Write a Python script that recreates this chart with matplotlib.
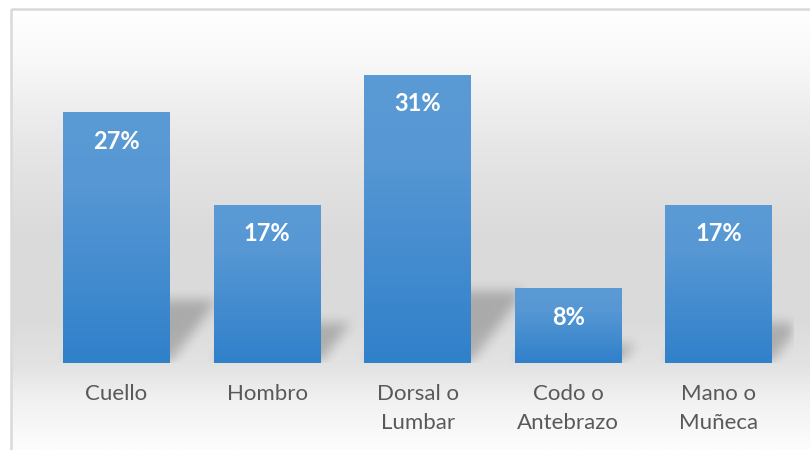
import matplotlib.pyplot as plt
import numpy as np
from matplotlib.colors import LinearSegmentedColormap
from matplotlib.patches import Rectangle

plt.rcParams['font.family'] = ['Lato', 'DejaVu Sans']

categorias = ['Cuello', 'Hombro', 'Dorsal o\nLumbar', 'Codo o\nAntebrazo', 'Mano o\nMuñeca']
porcentajes = [0.27, 0.17, 0.31, 0.08, 0.17]

W, H = 810, 450
fig = plt.figure(figsize=(W / 100, H / 100), dpi=100)
fig.patch.set_facecolor('white')

# chart area background (vertical grey gradient) in pixel coords
bg = fig.add_axes([0, 0, 1, 1])
bg.set_xlim(0, W)
bg.set_ylim(H, 0)
bg.axis('off')
fondo = LinearSegmentedColormap.from_list('fondo', [
    (0.0, '#ffffff'), (0.12, '#f8f8f8'), (0.30, '#e7e7e7'),
    (0.50, '#dbdbdb'), (0.70, '#dadada'), (0.82, '#e4e4e4'),
    (0.88, '#f0f0f0'), (1.0, '#fdfdfd')])
grad = np.linspace(0, 1, 256).reshape(-1, 1)
bg.imshow(grad, cmap=fondo, extent=(11, W, H, 9), aspect='auto', zorder=0)
bg.add_patch(Rectangle((11, 9), W, H, fill=False, edgecolor='#d9d9d9', lw=1.8, zorder=1))

ax = fig.add_axes([41.2 / W, 87 / H, 753 / W, 325 / H])
ax.set_facecolor('none')
ax.set_zorder(1)

x = np.arange(len(categorias))
ancho = 0.71
ymax = 0.35
barras = ax.bar(x, porcentajes, width=ancho, color='#4a8fd1', zorder=2)

# perspective shadows behind the bars
nx, ny = 753, 325
gx = np.linspace(-0.5, 4.5, nx)
gy = np.linspace(0, ymax, ny)
XX, YY = np.meshgrid(gx, gy)
k = (ny / ymax) / (nx / 5.0) * 0.75
mask = np.zeros_like(XX)
for b in barras:
    x0, x1, h = b.get_x(), b.get_x() + b.get_width(), b.get_height()
    sh = 0.25 * h
    dentro = (YY <= sh) & (XX >= x0 + k * YY) & (XX <= x1 + k * YY)
    mask[dentro] = 1.0
ker = np.ones(11) / 11
for _ in range(3):
    mask = np.apply_along_axis(lambda r: np.convolve(r, ker, mode='same'), 1, mask)
    mask = np.apply_along_axis(lambda c: np.convolve(c, ker, mode='same'), 0, mask)
sombra = np.zeros((ny, nx, 4))
sombra[..., 3] = 0.22 * mask
ax.imshow(sombra, extent=(-0.5, 4.5, 0, ymax), origin='lower', aspect='auto', zorder=1)

# gradient fill on each bar
azul = LinearSegmentedColormap.from_list('azul', [(0, '#5b9bd5'), (0.3, '#5697d4'), (1, '#3080ca')])
for b in barras:
    ax.imshow(grad, cmap=azul, aspect='auto', zorder=3,
              extent=(b.get_x(), b.get_x() + b.get_width(), 0, b.get_height()))
    ax.text(b.get_x() + b.get_width() / 2, b.get_height() - 0.031,
            f'{b.get_height() * 100:.0f}%', ha='center', va='center',
            color='white', fontsize=17, fontweight='bold', zorder=4)

ax.set_xlim(-0.5, 4.5)
ax.set_ylim(0, ymax)
ax.set_xticks(x)
ax.set_xticklabels(categorias, fontsize=16, color='#595959', linespacing=1.6)
ax.tick_params(axis='x', length=0, pad=15)
ax.set_yticks([])
for s in ax.spines.values():
    s.set_visible(False)

fig.savefig('out.png', dpi=100)
